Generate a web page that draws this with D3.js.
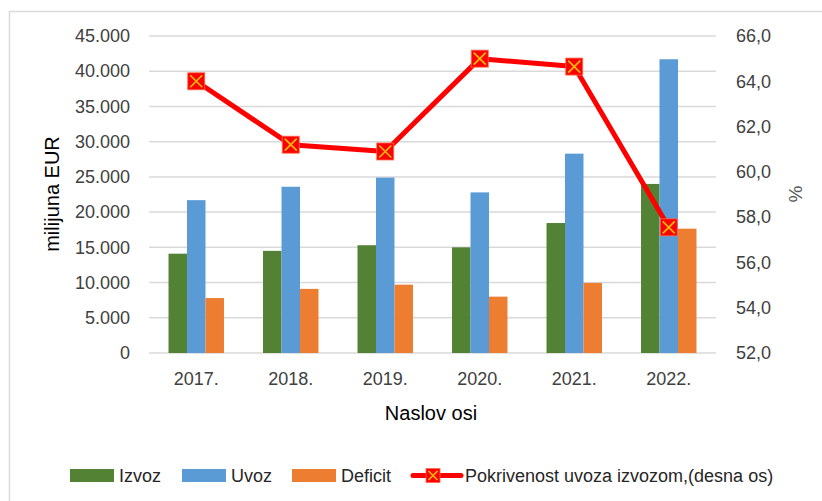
<!DOCTYPE html>
<html>
<head>
<meta charset="utf-8">
<script src="https://cdn.jsdelivr.net/npm/d3@7"></script>
<style>
  html, body { margin: 0; padding: 0; background: #fff; }
  svg { display: block; font-family: "Liberation Sans", Arial, sans-serif; }
</style>
</head>
<body>
<svg id="chart" width="822" height="501"></svg>
<script>
// ---- Data ----
const categories = ["2017.", "2018.", "2019.", "2020.", "2021.", "2022."];
const izvoz   = [14100, 14500, 15300, 15000, 18450, 24000];
const uvoz    = [21700, 23600, 24900, 22800, 28300, 41700];
const deficit = [7800, 9100, 9700, 8000, 9950, 17650];
const pokrivenost = [64.0, 61.2, 60.9, 65.0, 64.65, 57.55];
const leftTicks  = [0, 5000, 10000, 15000, 20000, 25000, 30000, 35000, 40000, 45000];
const rightTicks = [52, 54, 56, 58, 60, 62, 64, 66];
const seriesNames = ["Izvoz", "Uvoz", "Deficit"];
const lineName = "Pokrivenost uvoza izvozom,(desna os)";
const colors = { Izvoz: "#548235", Uvoz: "#5B9BD5", Deficit: "#ED7D31" };

const barSeries = [izvoz, uvoz, deficit];

// ---- Layout ----
const svg = d3.select("#chart");
const plot = { left: 149, right: 716, top: 36, bottom: 353 };

// outer chart border
svg.append("rect")
  .attr("x", 9.5).attr("y", 11.5)
  .attr("width", 830).attr("height", 520)
  .attr("fill", "#fff").attr("stroke", "#d9d9d9").attr("stroke-width", 1.5);

const x = d3.scaleBand().domain(categories).range([plot.left, plot.right])
  .paddingInner(0.413).paddingOuter(0.2065);
const xInner = d3.scaleBand().domain(seriesNames).range([0, x.bandwidth()]);
const yL = d3.scaleLinear().domain([0, 45000]).range([plot.bottom, plot.top]);
const yR = d3.scaleLinear().domain([52, 66]).range([plot.bottom, plot.top]);

const fmtL = v => v === 0 ? "0" : d3.format(",")(v).replace(/,/g, ".");
const fmtR = v => v.toFixed(1).replace(".", ",");

// gridlines
svg.append("g").selectAll("line").data(leftTicks).join("line")
  .attr("x1", plot.left).attr("x2", plot.right)
  .attr("y1", d => yL(d)).attr("y2", d => yL(d))
  .attr("stroke", "#d9d9d9").attr("stroke-width", 1.5);

// left axis
const axL = svg.append("g").attr("transform", `translate(${plot.left - 19},0)`)
  .call(d3.axisLeft(yL).tickValues(leftTicks).tickFormat(fmtL).tickSize(0).tickPadding(0));
axL.select(".domain").remove();
axL.selectAll("text").attr("font-size", 18).attr("fill", "#404040")
  .attr("font-family", "Liberation Sans, Arial, sans-serif");

// right axis
const axR = svg.append("g").attr("transform", `translate(${plot.right + 20},0)`)
  .call(d3.axisRight(yR).tickValues(rightTicks).tickFormat(fmtR).tickSize(0).tickPadding(0));
axR.select(".domain").remove();
axR.selectAll("text").attr("font-size", 18).attr("fill", "#404040")
  .attr("font-family", "Liberation Sans, Arial, sans-serif");

// bottom axis
const axB = svg.append("g").attr("transform", `translate(0,${plot.bottom})`)
  .call(d3.axisBottom(x).tickSize(0).tickPadding(19));
axB.select(".domain").remove();
axB.selectAll("text").attr("font-size", 18).attr("fill", "#404040")
  .attr("font-family", "Liberation Sans, Arial, sans-serif");

// bars
const groups = svg.append("g").selectAll("g").data(categories).join("g")
  .attr("transform", d => `translate(${x(d)},0)`);
groups.selectAll("rect")
  .data((d, i) => seriesNames.map((s, k) => ({ s, v: barSeries[k][i] })))
  .join("rect")
  .attr("x", d => xInner(d.s))
  .attr("width", xInner.bandwidth())
  .attr("y", d => yL(d.v))
  .attr("height", d => yL(0) - yL(d.v))
  .attr("fill", d => colors[d.s]);

// line
const cx = d => x(d) + x.bandwidth() / 2;
const line = d3.line().x((d, i) => cx(categories[i])).y(d => yR(d));
svg.append("path").datum(pokrivenost)
  .attr("d", line).attr("fill", "none")
  .attr("stroke", "#FF0000").attr("stroke-width", 5).attr("stroke-linejoin", "round");

function marker(g, mx, my, s) {
  g.append("rect").attr("x", mx - s / 2).attr("y", my - s / 2)
    .attr("width", s).attr("height", s).attr("fill", "#FF0000")
    .attr("stroke", "#ff6a4a").attr("stroke-width", 0.8);
  const h = s / 2 - 2.5;
  g.append("path")
    .attr("d", `M${mx - h},${my - h}L${mx + h},${my + h}M${mx - h},${my + h}L${mx + h},${my - h}`)
    .attr("stroke", "#FFC000").attr("stroke-width", 1.6);
}
const mg = svg.append("g");
pokrivenost.forEach((v, i) => marker(mg, cx(categories[i]), yR(v), 17));

// axis titles
svg.append("text").attr("transform", "translate(59,194) rotate(-90)")
  .attr("text-anchor", "middle").attr("font-size", 20).attr("fill", "#000")
  .text("milijuna EUR");
svg.append("text").attr("transform", "translate(802,194) rotate(-90)")
  .attr("text-anchor", "middle").attr("font-size", 19).attr("fill", "#595959")
  .text("%");
svg.append("text").attr("x", 431).attr("y", 420)
  .attr("text-anchor", "middle").attr("font-size", 20).attr("fill", "#000")
  .text("Naslov osi");

// legend
const lg = svg.append("g");
const legItems = [
  { name: "Izvoz", x: 70 },
  { name: "Uvoz", x: 182 },
  { name: "Deficit", x: 292 }
];
legItems.forEach(it => {
  lg.append("rect").attr("x", it.x).attr("y", 469).attr("width", 44).attr("height", 13)
    .attr("fill", colors[it.name]);
  lg.append("text").attr("x", it.x + 49).attr("y", 482)
    .attr("font-size", 18).attr("fill", "#262626").text(it.name);
});
lg.append("line").attr("x1", 413).attr("x2", 461).attr("y1", 475.5).attr("y2", 475.5)
  .attr("stroke", "#FF0000").attr("stroke-width", 5).attr("stroke-linecap", "round");
marker(lg, 433, 475.5, 14);
lg.append("text").attr("x", 465).attr("y", 482)
  .attr("font-size", 18).attr("fill", "#262626").text(lineName);
</script>
</body>
</html>
